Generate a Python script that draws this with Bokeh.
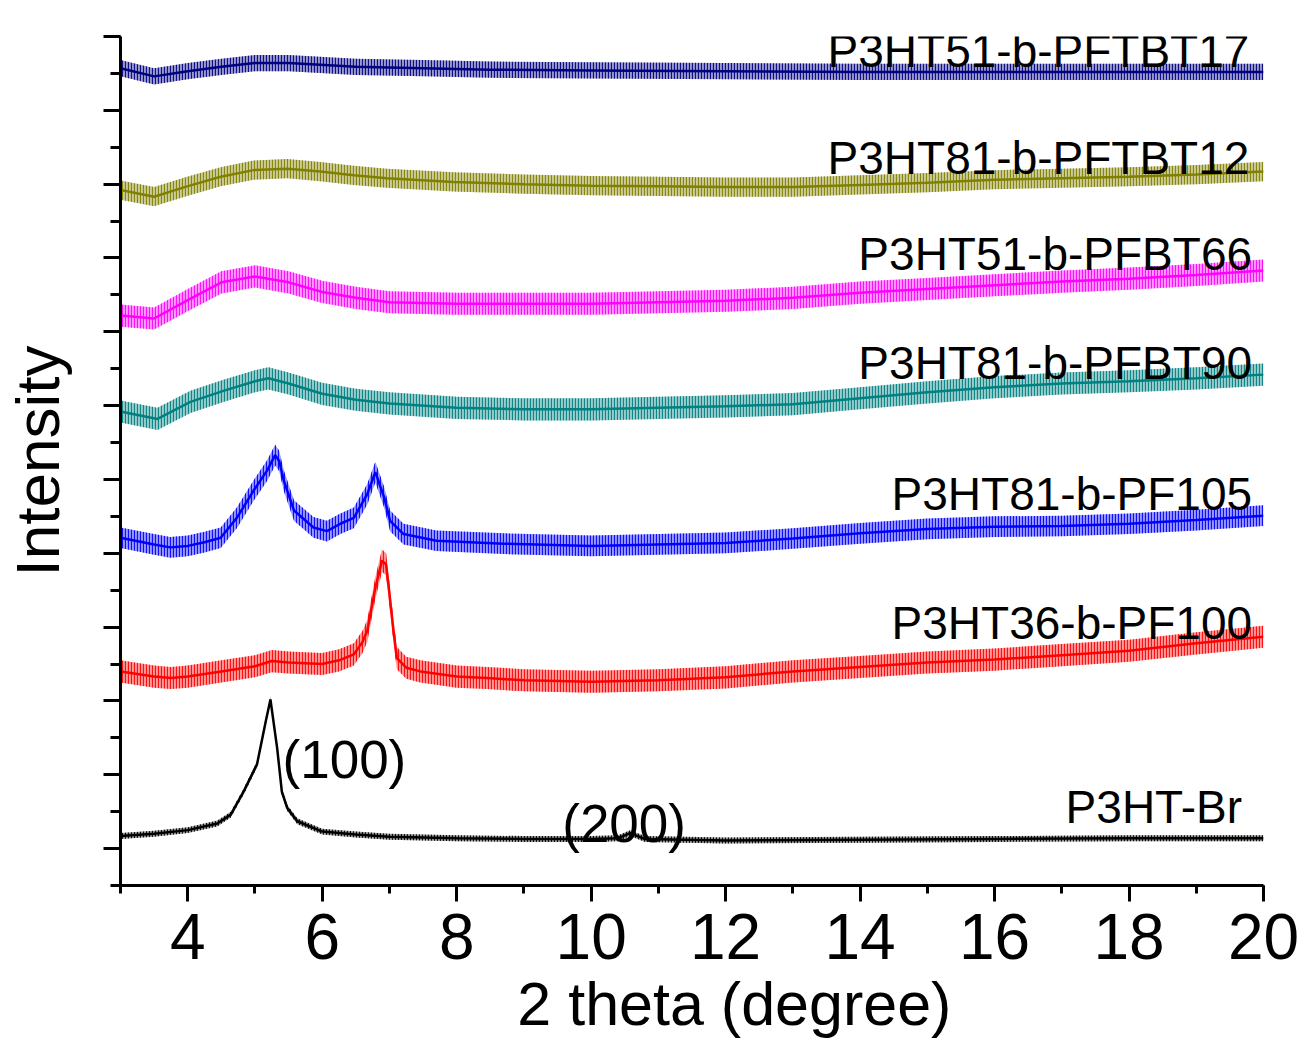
from bokeh.plotting import figure
from bokeh.models import Label, SingleIntervalTicker, Range1d, CustomLabelingPolicy
from bokeh.embed import file_html
from bokeh.resources import INLINE

FONT = "Liberation Sans"

# ---- data (2 theta in degree, intensity in offset units) ----
br_x = [3.0, 3.5, 4.0, 4.44, 4.64, 4.83, 5.03, 5.16, 5.23, 5.33, 5.40, 5.48, 5.63, 6.0, 6.5,
        7.0, 8.0, 9.0, 10.0, 10.4, 10.58, 10.8, 12.0, 14.0, 16.0, 18.0, 20.0]
br_y = [0.17, 0.20, 0.25, 0.34, 0.46, 0.77, 1.14, 1.72, 2.02, 1.36, 0.77, 0.55, 0.37, 0.23, 0.19,
        0.16, 0.14, 0.13, 0.13, 0.14, 0.21, 0.13, 0.11, 0.12, 0.13, 0.14, 0.14]
br_noise = 0.04

pf100_x = [3.0, 3.5, 3.75, 4.0, 4.5, 5.0, 5.25, 5.5, 6.0, 6.25, 6.47, 6.6, 6.67, 6.79, 6.89, 6.95,
           6.99, 7.06, 7.11, 7.25, 7.46, 8.0, 8.45, 9.0, 10.0, 11.0, 12.0, 13.0, 14.0, 15.0,
           16.0, 17.0, 18.0, 19.0, 20.0]
pf100_y = [2.40, 2.33, 2.31, 2.33, 2.40, 2.47, 2.54, 2.52, 2.50, 2.55, 2.63, 2.80, 2.95, 3.53, 3.90, 3.85,
           3.53, 2.95, 2.58, 2.45, 2.40, 2.33, 2.31, 2.28, 2.26, 2.28, 2.32, 2.40, 2.46, 2.52,
           2.56, 2.62, 2.68, 2.78, 2.87]
pf100_noise = 0.15

pf105_x = [3.0, 3.5, 3.74, 4.0, 4.25, 4.49, 4.73, 4.98, 5.18, 5.30, 5.36, 5.43, 5.58, 5.87, 6.07,
           6.27, 6.47, 6.67, 6.79, 6.92, 7.01, 7.21, 7.70, 8.7, 10.0, 12.0, 13.0, 14.0, 15.0,
           16.0, 17.0, 18.0, 19.0, 20.0]
pf105_y = [4.21, 4.12, 4.08, 4.10, 4.15, 4.21, 4.48, 4.85, 5.12, 5.33, 5.25, 4.98, 4.58, 4.35, 4.30,
           4.40, 4.48, 4.80, 5.10, 4.76, 4.44, 4.26, 4.17, 4.13, 4.10, 4.14, 4.20, 4.27, 4.33,
           4.36, 4.37, 4.40, 4.45, 4.51]
pf105_noise = 0.14

pfbt90_x = [3.0, 3.55, 4.04, 4.53, 5.0, 5.2, 5.5, 6.0, 6.5, 7.0, 8.0, 9.0, 10.0, 11.0, 12.0, 13.0,
            14.0, 15.0, 16.0, 17.0, 18.0, 19.0, 20.0]
pfbt90_y = [5.92, 5.82, 6.05, 6.20, 6.33, 6.37, 6.30, 6.16, 6.08, 6.03, 5.97, 5.95, 5.95, 5.97, 5.99, 6.02,
            6.10, 6.18, 6.25, 6.30, 6.33, 6.37, 6.42]
pfbt90_noise = 0.15

pfbt66_x = [3.0, 3.5, 4.0, 4.5, 5.0, 5.5, 6.0, 6.5, 7.0, 8.0, 9.0, 10.0, 11.0, 12.0, 13.0, 14.0,
            15.0, 16.0, 17.0, 18.0, 19.0, 20.0]
pfbt66_y = [7.22, 7.18, 7.43, 7.67, 7.75, 7.67, 7.54, 7.46, 7.40, 7.38, 7.38, 7.38, 7.40, 7.42, 7.46, 7.53,
            7.58, 7.63, 7.68, 7.72, 7.77, 7.83]
pfbt66_noise = 0.15

pftbt12_x = [3.0, 3.5, 3.99, 4.49, 4.98, 5.48, 5.97, 6.47, 6.96, 7.95, 9.0, 10.0, 11.0, 12.0, 13.0,
             14.0, 15.0, 16.0, 17.0, 18.0, 19.0, 20.0]
pftbt12_y = [8.92, 8.83, 8.97, 9.10, 9.19, 9.21, 9.17, 9.12, 9.08, 9.03, 9.00, 8.98, 8.97, 8.96, 8.96,
             8.99, 9.02, 9.06, 9.08, 9.10, 9.13, 9.17]
pftbt12_noise = 0.13

pftbt17_x = [3.0, 3.5, 4.0, 4.5, 5.0, 5.5, 6.5, 7.5, 8.5, 10.0, 12.0, 14.0, 16.0, 18.0, 20.0]
pftbt17_y = [10.57, 10.46, 10.53, 10.59, 10.64, 10.64, 10.59, 10.57, 10.55, 10.54, 10.53, 10.52,
             10.52, 10.52, 10.52]
pftbt17_noise = 0.11

series = [
    (br_x, br_y, br_noise, "#000000"),
    (pf100_x, pf100_y, pf100_noise, "#FF0000"),
    (pf105_x, pf105_y, pf105_noise, "#0000FF"),
    (pfbt90_x, pfbt90_y, pfbt90_noise, "#008080"),
    (pfbt66_x, pfbt66_y, pfbt66_noise, "#FF00FF"),
    (pftbt12_x, pftbt12_y, pftbt12_noise, "#808000"),
    (pftbt17_x, pftbt17_y, pftbt17_noise, "#000080"),
]

p = figure(width=1303, height=1040, output_backend="svg", toolbar_location=None,
           x_range=Range1d(3, 20), y_range=Range1d(-0.5, 11),
           min_border_left=120, min_border_right=40, min_border_top=36, min_border_bottom=0)
p.outline_line_color = None
p.xgrid.visible = False
p.ygrid.visible = False
p.background_fill_color = "white"
p.border_fill_color = "white"

for xs, ys, nz, col in series:
    lo = [v - nz for v in ys]
    hi = [v + nz for v in ys]
    p.varea(x=xs, y1=lo, y2=hi, fill_color=col, fill_alpha=0.4,
            hatch_pattern="vertical_line", hatch_color=col, hatch_alpha=0.9,
            hatch_scale=3, hatch_weight=1.2)
    p.line(x=xs, y=ys, line_color=col, line_width=2.5)

# axes
p.xaxis.ticker = SingleIntervalTicker(interval=2, num_minor_ticks=2)
p.yaxis.ticker = SingleIntervalTicker(interval=1, num_minor_ticks=2)
for ax in (p.xaxis, p.yaxis):
    ax.axis_line_width = 3
    ax.major_tick_line_width = 3
    ax.minor_tick_line_width = 3
    ax.major_tick_in = 0
    ax.minor_tick_in = 0
    ax.axis_label_text_font = FONT
    ax.axis_label_text_font_style = "normal"
    ax.axis_label_text_color = "black"
    ax.major_label_text_font = FONT
    ax.major_label_text_color = "black"
    ax.axis_line_color = "black"
    ax.major_tick_line_color = "black"
    ax.minor_tick_line_color = "black"
p.xaxis.major_tick_out = 16
p.xaxis.minor_tick_out = 8
p.yaxis.major_tick_out = 17
p.yaxis.minor_tick_out = 10
p.xaxis.major_label_text_font_size = "64px"
p.xaxis.major_label_standoff = 12
# leading no-break spaces shift the centred title right, as in the reference
p.xaxis.axis_label = "\u00a0\u00a0\u00a0\u00a0\u00a02 theta (degree)"
p.xaxis.axis_label_text_font_size = "61px"
p.xaxis.axis_label_standoff = 8
p.yaxis.major_label_policy = CustomLabelingPolicy(
    code="for (const i of Array.from(indices)) { indices.unset(i) } return indices")
p.yaxis.major_label_standoff = 0
p.yaxis.axis_label = "Intensity"
p.yaxis.axis_label_text_font_size = "62px"
p.yaxis.axis_label_standoff = 16

labels = [
    ("P3HT51-b-PFTBT17", 19.79, 10.81, "right", "46px"),
    ("P3HT81-b-PFTBT12", 19.79, 9.36, "right", "46px"),
    ("P3HT51-b-PFBT66", 19.83, 8.05, "right", "46px"),
    ("P3HT81-b-PFBT90", 19.83, 6.58, "right", "46px"),
    ("P3HT81-b-PF105", 19.83, 4.80, "right", "46px"),
    ("P3HT36-b-PF100", 19.83, 3.05, "right", "46px"),
    ("P3HT-Br", 19.68, 0.557, "right", "46px"),
    ("(100)", 5.41, 1.21, "left", "53px"),
    ("(200)", 9.57, 0.344, "left", "53px"),
]
for txt, lx, ly, al, fs in labels:
    p.add_layout(Label(x=lx, y=ly, text=txt, text_align=al, text_baseline="alphabetic",
                       text_font=FONT, text_font_size=fs, text_color="black"))

open("out.html", "w").write(file_html(p, INLINE))
